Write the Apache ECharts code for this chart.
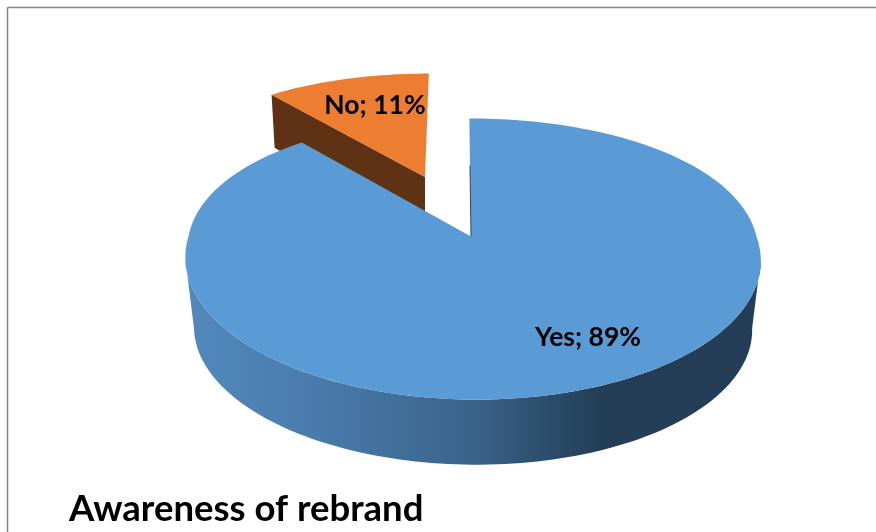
<!DOCTYPE html>
<html>
<head>
<meta charset="utf-8">
<style>html,body{margin:0;padding:0;background:#fff}#c{width:876px;height:532px}</style>
<script src="https://cdn.jsdelivr.net/npm/echarts@6/dist/echarts.min.js"></script>
</head>
<body>
<div id="c"></div>
<script>
var titleText = 'Awareness of rebrand';
var categories = ['No', 'Yes'];
var shares = [11, 89];

var FONT = 'Lato, "Open Sans", sans-serif';
var K = 0.16, KX = 0.1;
// per-slice projection of the tilted disc
var slices = {
  No:  {apex:[425,177], rim:[473,237], rx:265, ry:120, shear:-2, color:'#ed7d31', wall:'#5f3213', label:[375,105]},
  Yes: {apex:[471,236.5], rim:[472.5,236.5], rx:284, ry:137, shear:3.5, color:'#5b9bd5', wall:'#2a4a68', label:[588,337]}
};
var DEPTH = {dy:70, scale:0.97};

function project(s, a, f, scale, dy) {
  // a: clockwise angle from 12 o'clock, in radians
  var X = Math.sin(a) * f, Y = -Math.cos(a) * f;
  scale = scale || 1; dy = dy || 0;
  var wx = Y > 0 ? 1 - K * Y : 1 - KX * Y;
  return [
    s.apexX + scale * (s.rx * X + s.shear * Y) / wx,
    s.apexY + dy + scale * s.ry * Y / (1 - K * Y)
  ];
}
function arc(s, a0, a1, scale, dy) {
  var pts = [], n = Math.max(8, Math.ceil(Math.abs(a1 - a0) * 40));
  for (var i = 0; i <= n; i++) pts.push(project(s, a0 + (a1 - a0) * i / n, 1, scale, dy));
  return pts;
}

function renderItem(params, api) {
  var idx = params.dataIndex;
  var total = shares.reduce(function (p, v) { return p + v; }, 0);
  var before = 0;
  for (var i = 0; i < idx; i++) before += shares[i];
  var TAU = Math.PI * 2;
  var origin = -shares[0] / total * TAU;            // first slice ends at 12 o'clock
  var a0 = origin + before / total * TAU;
  var a1 = a0 + api.value(0) / total * TAU;
  var name = categories[idx];
  var s = slices[name];
  var geo = {apexX: s.rim[0], apexY: s.rim[1], rx: s.rx, ry: s.ry, shear: s.shear};
  var children = [];

  if (name === 'No') {
    geo.apexX = s.apex[0] + 2; geo.apexY = s.apex[1];
    var rimPts = arc(geo, a0, a1);
    var L = rimPts[0];
    children.push({type:'polygon', shape:{points:[s.apex, L, [L[0]+3, L[1]+53], [s.apex[0], s.apex[1]+60]]},
      style:{fill:s.wall}});
    children.push({type:'polygon', shape:{points:[s.apex].concat(rimPts)}, style:{fill:s.color}});
  } else {
    var wA = Math.PI / 2 + Math.asin(K), wB = Math.PI * 1.5 - Math.asin(K);
    var top = arc(geo, wA, wB), bottom = arc(geo, wA, wB, DEPTH.scale, DEPTH.dy).reverse();
    children.push({type:'polygon', shape:{points: top.concat(bottom)},
      style:{fill:{type:'linear',x:0,y:0,x2:1,y2:0,colorStops:[
        {offset:0,color:'#5289bd'},{offset:0.2,color:'#4a7dae'},{offset:0.5,color:'#3a638b'},
        {offset:0.72,color:'#233e56'},{offset:1,color:'#233e56'}]}}});
    var rim = arc(geo, a0, a1);
    var ap = s.apex;
    children.push({type:'polygon', shape:{points:[ap].concat(rim)}, style:{fill:s.color}});
    var e = rim[0];
    children.push({type:'line', shape:{x1:ap[0], y1:ap[1], x2:ap[0]+(e[0]-ap[0])*0.6, y2:ap[1]+(e[1]-ap[1])*0.6},
      style:{stroke:s.wall, lineWidth:1}});
  }
  children.push({type:'text', z2:10, style:{
    text: name + '; ' + api.value(0) + '%',
    x: s.label[0], y: s.label[1], align:'center', verticalAlign:'middle',
    fill:'#000', font:'bold 26.5px ' + FONT
  }});
  return {type:'group', children: children};
}

var chart = echarts.init(document.getElementById('c'), null, {renderer:'canvas'});
chart.setOption({
  animation:false,
  backgroundColor:'#ffffff',
  title:{text:titleText, left:69, top:491, padding:0,
    textStyle:{fontFamily:FONT, fontWeight:'bold', fontSize:36.5, color:'#000'}},
  graphic:[
    {type:'line', shape:{x1:7.5,y1:7.5,x2:876,y2:7.5}, style:{stroke:'#868686',lineWidth:1.5}},
    {type:'line', shape:{x1:7.5,y1:7.5,x2:7.5,y2:532}, style:{stroke:'#868686',lineWidth:1.5}}
  ],
  series:[{type:'custom', coordinateSystem:'none', renderItem:renderItem,
    data: shares.map(function (v, i) { return {name:categories[i], value:[v]}; })}]
});
</script>
</body>
</html>
